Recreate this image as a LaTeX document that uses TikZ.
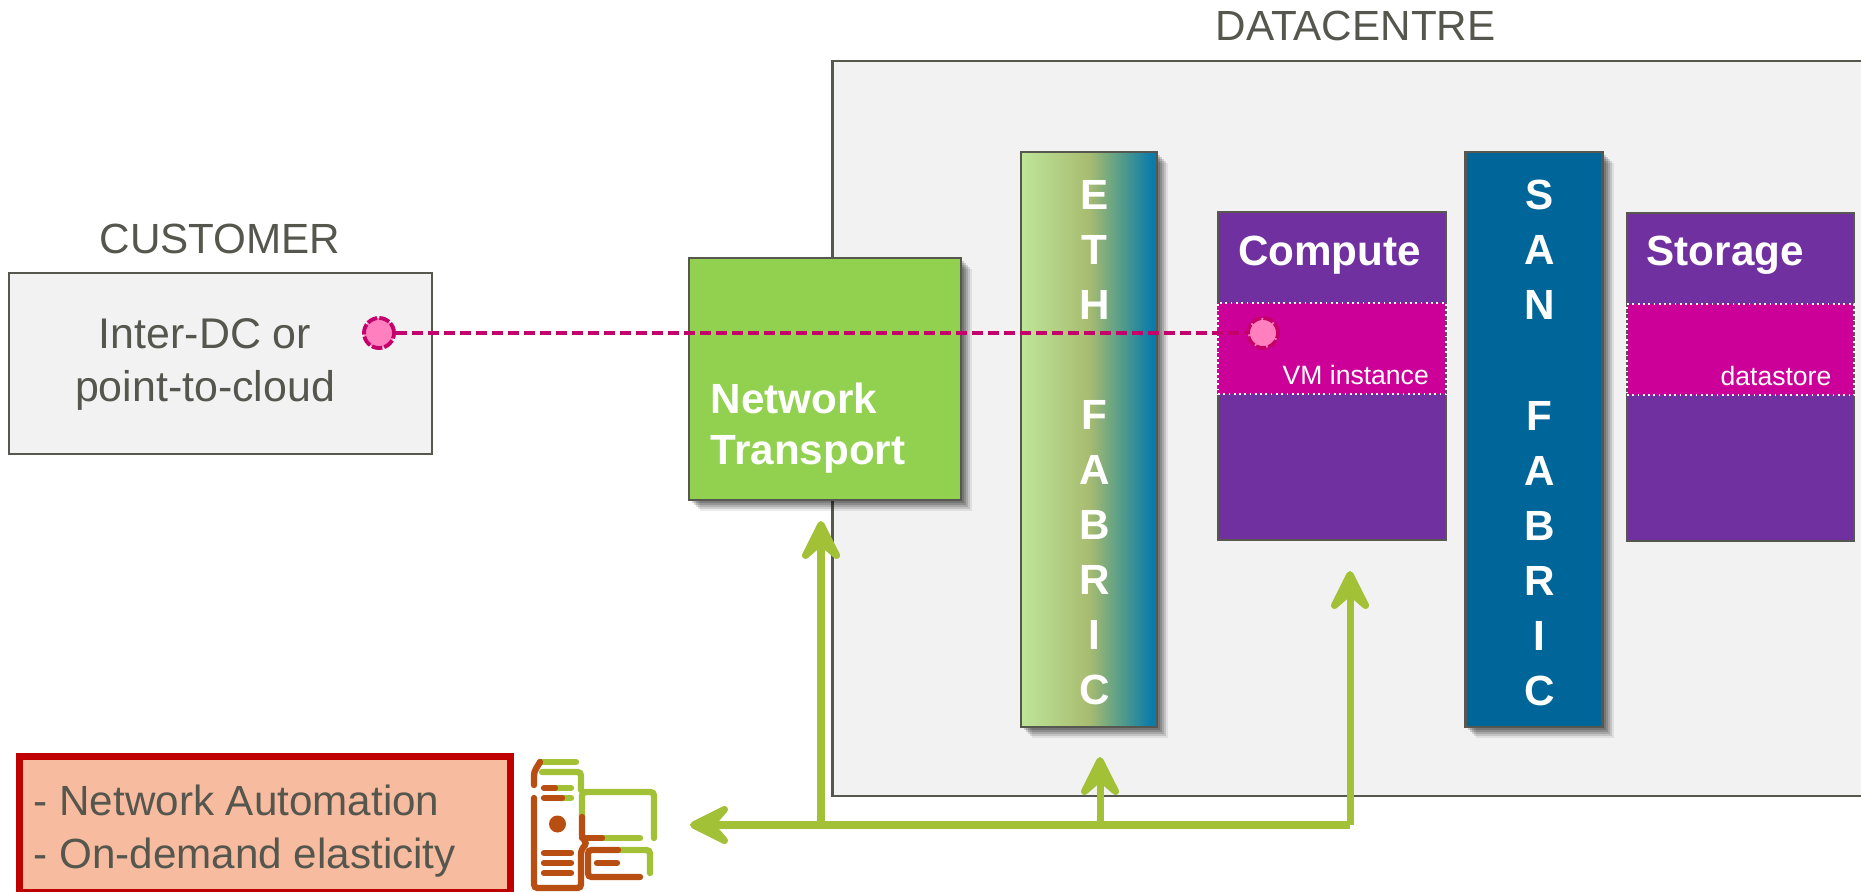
\documentclass[tikz,border=0pt]{standalone}
\usepackage{fontspec}
\setmainfont{Liberation Sans}
\usetikzlibrary{arrows.meta}
\usetikzlibrary{shadows}

\definecolor{framegray}{HTML}{56574E}
\definecolor{textgray}{HTML}{55564D}
\definecolor{dcgray}{HTML}{F2F2F2}
\definecolor{leafgreen}{HTML}{92D050}
\definecolor{ctrlgreen}{HTML}{A2C136}
\definecolor{rustorange}{HTML}{B94E12}
\definecolor{royalpurple}{HTML}{7030A0}
\definecolor{bandpink}{HTML}{CC0099}
\definecolor{sanblue}{HTML}{006699}
\definecolor{linkred}{HTML}{C5006B}
\definecolor{dotpink}{HTML}{FF7FBF}
\definecolor{alarmred}{HTML}{C00000}
\definecolor{alarmfill}{HTML}{F7BBA0}
\definecolor{ethleft}{HTML}{BEE599}
\definecolor{ethmid}{HTML}{A8BC70}
\definecolor{ethteal}{HTML}{4F9A8C}
\definecolor{ethright}{HTML}{0A7BAB}

\pgfdeclarehorizontalshading{ethshade}{100bp}{
    color(0bp)=(ethleft);
    color(25bp)=(ethleft);
    color(50bp)=(ethmid);
    color(62.5bp)=(ethteal);
    color(73bp)=(ethright);
    color(100bp)=(ethright)}

\tikzset{
    box/.style={draw=framegray,line width=0.7pt,inner sep=0pt},
    softshadow/.style={
        drop shadow={shadow xshift=0.11cm,shadow yshift=-0.11cm,opacity=0.08,fill=black},
        drop shadow={shadow xshift=0.09cm,shadow yshift=-0.09cm,opacity=0.12,fill=black},
        drop shadow={shadow xshift=0.07cm,shadow yshift=-0.07cm,opacity=0.14,fill=black},
        drop shadow={shadow xshift=0.05cm,shadow yshift=-0.05cm,opacity=0.16,fill=black},
        drop shadow={shadow xshift=0.03cm,shadow yshift=-0.03cm,opacity=0.16,fill=black}},
    band/.style={draw=white,densely dotted,line width=0.5pt,fill=bandpink,inner sep=0pt},
    title/.style={text=textgray,font=\fontsize{12}{15}\selectfont,align=center,inner sep=0pt},
    bold/.style={text=white,font=\fontsize{12}{14.5}\selectfont\bfseries,inner sep=0pt},
    fabric/.style={text=white,font=\fontsize{12}{15.65}\selectfont\bfseries,align=center,inner sep=0pt},
    small/.style={text=white,font=\fontsize{7.55}{9}\selectfont,inner sep=0pt,anchor=east},
    dot/.style={circle,draw=linkred,fill=dotpink,line width=1.1pt,dash pattern=on 3pt off 0.6pt,minimum size=0.3cm,inner sep=0pt},
    link/.style={draw=linkred,line width=1.15pt,dash pattern=on 3.1pt off 1.45pt},
    ctrl/.style={draw=ctrlgreen,line width=2pt},
    ctrltip/.style={ctrl,-{Stealth[length=15pt,width=15pt,inset=6.5pt,round,line width=2pt]}},
    iconG/.style={draw=ctrlgreen,line width=1.8pt,line cap=round,rounded corners=1pt},
    iconR/.style={draw=rustorange,line width=1.8pt,line cap=round,rounded corners=1pt}
}

\begin{document}
\begin{tikzpicture}[x=0.01cm,y=-0.01cm]
    \useasboundingbox (0,0) rectangle (1861,891);

    % Draw the datacentre and the customer
    \node[box,fill=dcgray,minimum width=10.47cm,minimum height=7.35cm] (dc) at (1356.5,428.5) {};
    \node[title] (dcTitle) at (1355.5,26) {DATACENTRE};
    \node[box,fill=dcgray,minimum width=4.23cm,minimum height=1.81cm] (customer) at (220.5,363.5) {};
    \node[title] (customerTitle) at (220,238.5) {CUSTOMER};
    \node[title,font=\fontsize{12.2}{15}\selectfont] (customerText) at (205,364.5) {Inter-DC or\\point-to-cloud};

    % Draw network transport
    \node[box,fill=leafgreen,softshadow,minimum width=2.72cm,minimum height=2.42cm] (transport) at (825,379) {};
    \node[bold,align=left,anchor=west] (transportText) at (710,428.5) {Network\\Transport};

    % Draw the fabrics
    \node[box,softshadow,shade,shading=ethshade,minimum width=1.36cm,minimum height=5.75cm] (eth) at (1089,439.5) {};
    \node[fabric] (ethText) at (1094.5,443) {E\\T\\H\\~\\F\\A\\B\\R\\I\\C};
    \node[box,fill=sanblue,softshadow,minimum width=1.37cm,minimum height=5.75cm] (san) at (1534,439.5) {};
    \node[fabric] (sanText) at (1539.5,443) {S\\A\\N\\~\\F\\A\\B\\R\\I\\C};

    % Draw compute and storage
    \node[box,fill=royalpurple,minimum width=2.28cm,minimum height=3.28cm] (compute) at (1332,376) {};
    \node[band,minimum width=2.28cm,minimum height=0.91cm] (vmBand) at (1332,348.5) {};
    \node[bold] (computeText) at (1329.5,255) {Compute};
    \node[small] (vmText) at (1429.5,375) {VM instance};
    \node[box,fill=royalpurple,minimum width=2.27cm,minimum height=3.28cm] (storage) at (1740.5,377) {};
    \node[band,minimum width=2.27cm,minimum height=0.91cm] (dsBand) at (1740.5,349.5) {};
    \node[bold,anchor=west] (storageText) at (1646,255) {Storage};
    \node[small] (dsText) at (1832,376) {datastore};

    % Draw the path between customer and VM
    \node[dot] (custDot) at (379,333) {};
    \node[dot] (vmDot) at (1263,333) {};
    \draw[link] (custDot) -- (vmDot);

    % Draw automation box
    \node[draw=alarmred,fill=alarmfill,line width=2pt,minimum width=4.9cm,minimum height=1.35cm] (auto) at (265,824.5) {};
    \node[title,align=left,anchor=west,font=\fontsize{12}{15}\selectfont] (autoText) at (33,831) {- Network Automation\\- On-demand elasticity};

    % Draw control arrows
    \coordinate (iconTip) at (690,825);
    \coordinate (busN) at (821,825);
    \coordinate (busE) at (1100,825);
    \coordinate (busC) at (1350,825);
    \coordinate (tipN) at (821,521);
    \coordinate (tipE) at (1100,757);
    \coordinate (tipC) at (1350,571);
    \draw[ctrltip] (busC) -- (iconTip);
    \draw[ctrltip] (busN) -- (tipN);
    \draw[ctrltip] (busE) -- (tipE);
    \draw[ctrltip] (busC) -- (tipC);

    % Draw server icon, green part
    \draw[iconG] (540,762) -- (576,762);
    \draw[iconG] (542,772) -- (581,772) -- (581,790);
    \draw[iconG] (555,788) -- (571,788);
    \draw[iconG] (562,798) -- (571,798);
    \draw[iconG] (582,817) -- (582,792) -- (654,792) -- (654,838);
    \draw[iconG] (602,838) -- (640,838);
    \draw[iconG] (618,850) -- (650,850) -- (650,873);

    % Draw server icon, orange part
    \node[circle,fill=rustorange,minimum size=0.17cm,inner sep=0pt] (led) at (557.5,824) {};
    \draw[iconR] (534,785) -- (534,772) -- (540,762);
    \draw[iconR] (544,788) -- (555,788);
    \draw[iconR] (544,798) -- (562,798);
    \draw[iconR] (534,798) -- (534,888) -- (581,888) -- (581,850) -- (587,843) -- (582,838) -- (582,817);
    \draw[iconR] (582,838) -- (602,838);
    \foreach \y in {853,863,873} {
        \draw[iconR] (544,\y) -- (571,\y);
    }
    \draw[iconR] (618,850) -- (588,850) -- (588,877) -- (640,877);
    \draw[iconR] (597,863) -- (617,863);
\end{tikzpicture}
\end{document}
